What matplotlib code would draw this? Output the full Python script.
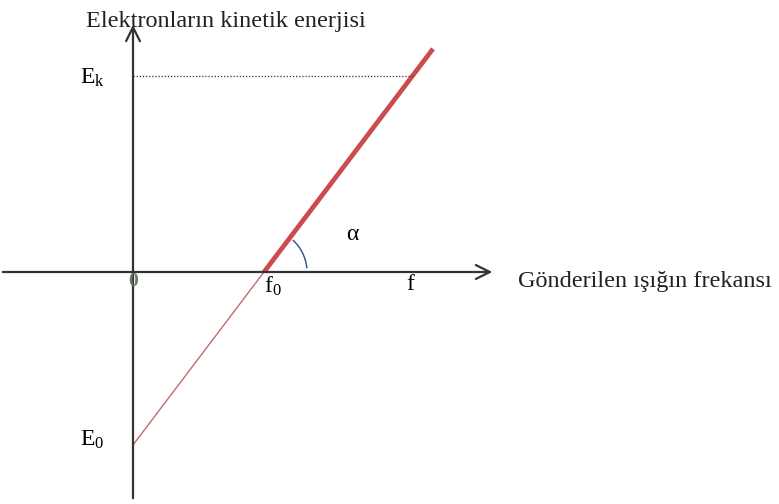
import matplotlib.pyplot as plt
from matplotlib.patches import Arc

# grafik verileri (piksel benzeri birimler, orijin = eksenlerin kesisimi)
E0 = -173
f0 = 131
f_max = 300
Ek = 196
f_label = 277
x_axis = [-133, 362]
y_axis = [-229, 250]

slope = -E0 / f0

plt.rcParams['mathtext.fontset'] = 'custom'
plt.rcParams['mathtext.rm'] = 'Liberation Serif'
plt.rcParams['mathtext.it'] = 'Liberation Serif:italic'

fig = plt.figure(figsize=(7.79, 5.04), dpi=100)
ax = fig.add_axes([0, 0, 1, 1])
ax.set_xlim(-133, 646)
ax.set_ylim(-232, 272)
ax.axis('off')

serif = ['Liberation Serif', 'DejaVu Serif']

# eksenler
ax.annotate('', xy=(x_axis[1], 0), xytext=(x_axis[0], 0),
            arrowprops=dict(arrowstyle='->', color='#333333', lw=1.6,
                            mutation_scale=25))
ax.annotate('', xy=(0, y_axis[1]), xytext=(0, y_axis[0]),
            arrowprops=dict(arrowstyle='->', color='#333333', lw=1.6,
                            mutation_scale=25))

# dogru: ince kisim E0 -> f0, kalin kisim f0 -> f_max
ax.plot([0, f0], [E0, 0], color='#c46a6a', lw=1.0)
ax.plot([f0, f_max], [0, slope * f_max + E0], color='#cc4c4e', lw=3.4,
        solid_capstyle='butt')

# Ek noktali cizgi
ax.plot([0, (Ek - E0) / slope], [Ek, Ek], color='#333333', lw=0.9,
        linestyle=(0, (1, 1.5)))

# alfa acisi
ax.add_patch(Arc((f0, 0), 86, 86, theta1=5, theta2=48, color='#2b4c8c', lw=1.0))

ax.text(-47, 251, 'Elektronların kinetik enerjisi', fontsize=17.5, family=serif,
        va='center', ha='left', color='#222222')
ax.text(385, -9, 'Gönderilen ışığın frekansı', fontsize=17.5, family=serif,
        va='center', ha='left', color='#222222')
ax.text(-53, Ek - 2, r'E$_{\mathrm{k}}$', fontsize=17, family=serif,
        va='center', ha='left')
ax.text(-53, E0 + 5, r'E$_{\mathrm{0}}$', fontsize=17, family=serif,
        va='center', ha='left')
ax.text(f0, -14, r'f$_{\mathrm{0}}$', fontsize=17, family=serif,
        va='center', ha='left')
ax.text(f_label, -12, 'f', fontsize=17, family=serif, va='center', ha='center')
ax.text(0, -10, '0', fontsize=14, family=serif, weight='bold', va='center',
        ha='center', color='#6b7a66')
ax.text(219, 38, 'α', fontsize=17, family=serif, va='center', ha='center')

plt.savefig('out.png', dpi=100)
